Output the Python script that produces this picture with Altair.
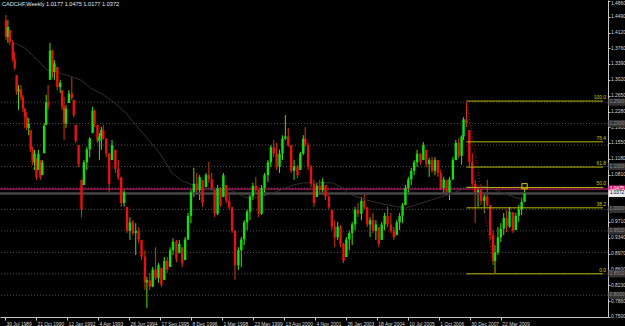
import altair as alt
import pandas as pd

# ---------------- data ----------------
title_text = "CADCHF,Weekly  1.0177 1.0475 1.0177 1.0372"

# bar index in weeks from 30 Jul 1989 (one sample every ~6 weeks)
weeks = [2,6,10,16,20,24,28,33,37,41,45,49,53,57,61,65,69,73,77,81,85,89,93,98,102,108,114,118,122,126,
         132,138,142,146,152,158,163,169,175,181,185,191,195,199,203,209,215,221,228,234,240,246,252,258,264,
         270,276,282,289,293,299,305,311,317,323,329,335,341,347,354,360,366,372,378,384,390,396,402,408,415,
         421,427,433,439,445,451,457,463,469,475,482,488,494,500,506,512,518,524,530,536,543,549,555,561,567,
         573,579,585,591,597,604,610,616,620,626,632,638,644,650,656,662,669,675,681,687,693,699,705,711,717,
         723,729,736,742,748,754,760,766,772,778,784,790,797,803,809,815,821,827,833,839,845,851,858,864,870,
         876,882,888,894,900,906,912,918,925,931,937,943,947,953,959,965,971,977,983,990,996,1002,1008,1012,
         1018,1024,1030,1036,1042,1049,1055,1061,1067,1073]

highs = [1.453,1.441,1.418,1.395,1.367,1.313,1.290,1.290,1.267,1.236,
         1.227,1.213,1.185,1.146,1.139,1.120,1.139,1.115,1.115,1.201,
         1.267,1.290,1.388,1.372,1.348,1.332,1.302,1.278,1.262,1.243,
         1.278,1.309,1.255,1.197,1.150,1.069,1.115,1.146,1.169,1.239,
         1.232,1.197,1.178,1.192,1.197,1.166,1.131,1.162,1.139,1.115,
         1.076,1.045,1.006,0.982,0.975,0.968,0.959,0.929,0.905,0.843,
         0.852,0.866,0.912,0.875,0.864,0.889,0.889,0.912,0.933,0.929,
         0.929,0.912,0.936,0.992,1.045,1.097,1.085,1.080,1.069,1.085,
         1.111,1.085,1.045,1.057,1.052,1.085,1.057,1.038,1.006,0.952,
         0.912,0.936,0.975,0.999,1.034,1.062,1.076,1.045,1.057,1.085,
         1.115,1.150,1.162,1.155,1.139,1.173,1.220,1.190,1.150,1.115,
         1.104,1.134,1.173,1.192,1.155,1.104,1.069,1.062,1.069,1.073,
         1.057,1.034,0.999,0.975,0.971,0.964,0.922,0.936,0.952,0.971,
         1.006,1.015,1.029,1.038,1.006,0.982,0.992,0.975,0.959,0.971,
         0.992,1.006,0.992,0.959,0.975,0.992,1.015,1.057,1.076,1.097,
         1.115,1.139,1.131,1.157,1.139,1.120,1.122,1.122,1.115,1.092,
         1.076,1.069,1.076,1.122,1.162,1.166,1.173,1.215,1.2525,1.185,
         1.131,1.069,1.052,1.057,1.038,1.069,1.010,0.952,0.917,0.959,
         0.968,0.992,0.999,1.006,0.994,0.992,1.010,1.027,1.0475]

lows = [1.395,1.388,1.383,1.344,1.325,1.267,1.232,1.255,1.227,1.190,
        1.185,1.173,1.134,1.104,1.092,1.069,1.092,1.069,1.080,1.131,
        1.197,1.232,1.302,1.306,1.302,1.278,1.271,1.232,1.162,1.190,
        1.248,1.255,1.215,1.155,1.099,0.982,1.057,1.092,1.122,1.178,
        1.192,1.155,1.115,1.139,1.162,1.122,1.041,1.115,1.085,1.069,
        1.006,1.006,0.945,0.929,0.940,0.894,0.922,0.882,0.812,0.770,
        0.812,0.819,0.836,0.829,0.819,0.836,0.852,0.866,0.894,0.877,
        0.898,0.866,0.882,0.929,0.968,1.029,1.034,1.022,1.006,1.052,
        1.062,1.045,0.982,0.987,1.006,1.029,1.015,0.999,0.945,0.836,
        0.859,0.866,0.917,0.952,0.975,1.022,1.038,0.982,0.987,1.034,
        1.064,1.099,1.122,1.092,1.085,1.115,1.162,1.146,1.085,1.069,
        1.073,1.092,1.127,1.146,1.092,1.052,1.006,1.029,1.038,1.034,
        1.022,0.999,0.952,0.912,0.929,0.912,0.875,0.889,0.905,0.917,
        0.952,0.982,0.975,0.999,0.959,0.936,0.945,0.929,0.912,0.929,
        0.952,0.959,0.945,0.929,0.940,0.952,0.968,1.010,1.034,1.057,
        1.080,1.099,1.104,1.115,1.099,1.076,1.085,1.080,1.076,1.045,
        1.038,1.034,1.022,1.069,1.115,1.120,1.104,1.162,1.192,1.099,
        1.052,0.968,1.006,1.010,0.992,1.006,0.929,0.871,0.850,0.894,
        0.924,0.940,0.947,0.957,0.945,0.952,0.971,0.987,1.0177]

closes = [1.402,1.425,1.390,1.350,1.330,1.275,1.280,1.262,1.235,1.215,
          1.190,1.200,1.140,1.110,1.130,1.075,1.130,1.075,1.110,1.195,
          1.250,1.240,1.370,1.320,1.340,1.285,1.295,1.240,1.200,1.235,
          1.270,1.260,1.220,1.160,1.105,1.000,1.110,1.140,1.165,1.230,
          1.200,1.160,1.170,1.185,1.165,1.130,1.060,1.150,1.095,1.075,
          1.015,1.040,0.950,0.970,0.945,0.950,0.930,0.890,0.830,0.835,
          0.820,0.860,0.840,0.870,0.825,0.880,0.860,0.905,0.925,0.885,
          0.920,0.875,0.930,0.985,1.040,1.060,1.045,1.075,1.015,1.080,
          1.070,1.050,0.990,1.050,1.010,1.080,1.020,1.005,0.950,0.870,
          0.905,0.930,0.970,0.995,1.030,1.055,1.045,0.990,1.050,1.080,
          1.110,1.145,1.130,1.100,1.130,1.165,1.170,1.150,1.090,1.100,
          1.080,1.130,1.165,1.150,1.100,1.060,1.015,1.055,1.045,1.065,
          1.030,1.005,0.960,0.935,0.960,0.920,0.880,0.930,0.945,0.965,
          1.000,0.990,1.020,1.005,0.965,0.975,0.950,0.965,0.920,0.965,
          0.985,0.965,0.950,0.935,0.970,0.985,1.010,1.050,1.070,1.090,
          1.110,1.130,1.110,1.150,1.105,1.115,1.090,1.115,1.085,1.050,
          1.070,1.040,1.070,1.115,1.155,1.125,1.170,1.210,1.200,1.110,
          1.060,1.040,1.045,1.020,1.030,1.010,0.940,0.880,0.900,0.935,
          0.955,0.980,0.960,0.995,0.950,0.985,1.000,1.0177,1.0372]
first_open = 1.440

ma_weeks = [16,41,67,87,128,156,177,203,224,250,270,291,319,345,366,400,427,467,494,514,543,
            569,595,616,650,677,697,711,746,792,827,847,880,914,941,961,981,1002,1022,1051,1071]
ma_vals = [1.390,1.376,1.348,1.325,1.313,1.302,1.283,1.267,1.250,1.225,1.197,1.169,1.132,1.085,
           1.066,1.052,1.045,1.045,1.029,1.027,1.034,1.045,1.057,1.062,1.062,1.062,1.050,1.036,
           1.022,1.010,1.003,1.010,1.022,1.034,1.045,1.055,1.055,1.050,1.041,1.029,1.022]

# right-axis price labels that are not hidden behind the price boxes
price_ticks = [1.4860,1.4490,1.4120,1.3760,1.3390,1.3020,1.2650,1.2280,1.1910,1.1550,1.1180,
               1.0810,0.9710,0.9340,0.8970,0.8600,0.8230,0.7860,0.7500]
date_labels = ["30 Jul 1989","21 Oct 1990","12 Jan 1992","4 Apr 1993","26 Jun 1994","17 Sep 1995",
               "8 Dec 1996","1 Mar 1998","23 May 1999","13 Aug 2000","4 Nov 2001","26 Jan 2003",
               "18 Apr 2004","10 Jul 2005","1 Oct 2006","30 Dec 2007","22 Mar 2009"]
weeks_per_label = 64

hline_prices = [1.25,1.20,1.15,1.10,1.05,1.00,0.95,0.90,0.85,0.80]
boxed_prices = [1.25,1.20,1.10,1.00,0.95,0.85,0.80]

fib_start_week = 953
fib_high = 1.2525
fib_low = 0.8500
fib_levels = [100.0, 76.4, 61.8, 50.0, 38.2, 0.0]
fib_trend_weeks = [953, 1012]

pink_price = 1.0475
bid_price = 1.0372
marker_week = 1073
marker_price = 1.054

x_max = 1235
y_min, y_max = 0.7494, 1.4880

assert len(weeks) == len(highs) == len(lows) == len(closes)

# ---------------- tables ----------------
opens = [first_open] + closes[:-1]
rows = []
for w, h, l, o, c in zip(weeks, highs, lows, opens, closes):
    o = min(max(o, l), h)
    c = min(max(c, l), h)
    rows.append({"week": w, "high": h, "low": l, "open": o, "close": c,
                 "dir": "up" if c >= o else "down"})
candles = pd.DataFrame(rows)
ma_df = pd.DataFrame({"week": ma_weeks, "price": ma_vals})
hl_df = pd.DataFrame({"price": hline_prices})
box_df = pd.DataFrame({"price": boxed_prices, "label": [f"{p:.4f}" for p in boxed_prices]})
fib_df = pd.DataFrame({
    "start": [fib_start_week] * len(fib_levels),
    "end": [x_max] * len(fib_levels),
    "price": [fib_low + (fib_high - fib_low) * lv / 100 for lv in fib_levels],
    "label": [f"{lv:.1f}" for lv in fib_levels],
})
trend_df = pd.DataFrame({"week": fib_trend_weeks, "price": [fib_high, fib_low]})
lines_df = pd.DataFrame({"price": [pink_price, bid_price],
                         "label": [f"{pink_price:.4f}", f"{bid_price:.4f}"],
                         "kind": ["pink", "bid"]})
marker_df = pd.DataFrame({"week": [marker_week], "price": [marker_price]})
title_df = pd.DataFrame({"t": [title_text]})

xs = alt.Scale(domain=[0, x_max], nice=False, zero=False)
ys = alt.Scale(domain=[y_min, y_max], nice=False, zero=False)

FONT = "Liberation Sans"
FS = 4.9

label_arr = "[" + ",".join(f"'{d}'" for d in date_labels) + "]"
x_axis = alt.Axis(values=[i * weeks_per_label for i in range(len(date_labels))],
                  labelExpr=f"{label_arr}[round(datum.value/{weeks_per_label})]",
                  title=None, grid=False, labelAlign="left", labelPadding=1, labelOffset=1,
                  labelFontSize=FS, labelColor="#d8d8d8", tickColor="#c8c8c8", tickSize=3,
                  domainColor="#c8c8c8", labelFont=FONT, labelOverlap=False,
                  labelFlush=False, labelBaseline="top")
y_axis = alt.Axis(values=price_ticks, format=".4f", orient="right", title=None, grid=False,
                  labelFontSize=FS, labelColor="#d8d8d8", tickColor="#c8c8c8", tickSize=2,
                  labelPadding=0.5, domainColor="#c8c8c8", labelFont=FONT,
                  labelOverlap=False, labelFlush=False,
                  labelBaseline={"condition": {"test": "datum.value > 1.48", "value": "top"},
                                 "value": "middle"})


def X(field):
    return alt.X(field, type="quantitative", scale=xs, axis=x_axis)


def Y(field):
    return alt.Y(field, type="quantitative", scale=ys, axis=y_axis)


hgrid = alt.Chart(hl_df).mark_rule(color="#505050", strokeDash=[1, 2], strokeWidth=1).encode(
    y=Y("price"))

price_lines = alt.Chart(lines_df).mark_rule().encode(
    y=Y("price"),
    color=alt.Color("kind:N", scale=alt.Scale(domain=["pink", "bid"], range=["#e2207e", "#464646"]),
                    legend=None),
    strokeWidth=alt.StrokeWidth("kind:N", scale=alt.Scale(domain=["pink", "bid"], range=[1, 2.5]),
                                legend=None))

ma = alt.Chart(ma_df).mark_line(color="#303030", strokeWidth=1).encode(x=X("week"), y=Y("price"))

wicks = alt.Chart(candles).mark_rule(strokeWidth=1).encode(
    x=X("week"), y=Y("low"), y2="high:Q",
    color=alt.Color("dir:N", scale=alt.Scale(domain=["up", "down"], range=["#58d800", "#d83800"]),
                    legend=None))
bodies = alt.Chart(candles).mark_bar(size=2.4).encode(
    x=X("week"), y=Y("open"), y2="close:Q",
    color=alt.Color("dir:N", scale=alt.Scale(domain=["up", "down"], range=["#10e010", "#e81010"]),
                    legend=None))

fib_lines = alt.Chart(fib_df).mark_rule(color="#b8b800", strokeWidth=1).encode(
    x=X("start"), x2="end:Q", y=Y("price"))
fib_text = alt.Chart(fib_df).mark_text(align="right", baseline="bottom", dy=-1, fontSize=FS,
                                        color="#c8c800", font=FONT).encode(
    x=alt.value(606), y=Y("price"), text="label:N")
trend = alt.Chart(trend_df).mark_line(color="#d01010", strokeDash=[1, 2], strokeWidth=1).encode(
    x=X("week"), y=Y("price"))

marker = alt.Chart(marker_df).mark_point(shape="square", size=28, filled=False, color="#d4c800",
                                         strokeWidth=1, opacity=1).encode(
    x=X("week"), y=Y("price"))

box_shape = "M-1,-0.42H1V0.42H-1Z"
hl_boxes = alt.Chart(box_df).mark_point(shape=box_shape, size=289, filled=True, fill="#333333",
                                        strokeWidth=0, opacity=1).encode(
    x=alt.value(617), y=Y("price"))
hl_box_text = alt.Chart(box_df).mark_text(fontSize=FS, color="#8a8a8a", align="center",
                                          baseline="middle", font=FONT).encode(
    x=alt.value(617), y=Y("price"), text="label:N")
line_boxes = alt.Chart(lines_df).mark_point(shape=box_shape, size=289, filled=True, strokeWidth=0,
                                            opacity=1).encode(
    x=alt.value(617), y=Y("price"),
    yOffset=alt.YOffset("kind:N", scale=alt.Scale(domain=["pink", "bid"], range=[-1.8, 1.8])),
    fill=alt.Fill("kind:N", scale=alt.Scale(domain=["pink", "bid"], range=["#e2207e", "#e8e8e8"]),
                  legend=None))
line_box_text = alt.Chart(lines_df).mark_text(fontSize=4.6, align="center", baseline="middle",
                                              font=FONT).encode(
    x=alt.value(617), y=Y("price"),
    yOffset=alt.YOffset("kind:N", scale=alt.Scale(domain=["pink", "bid"], range=[-2.2, 2.2])),
    text="label:N",
    color=alt.Color("kind:N", scale=alt.Scale(domain=["pink", "bid"], range=["#ffffff", "#000000"]),
                    legend=None))

title = alt.Chart(title_df).mark_text(align="left", baseline="middle", fontSize=5.6,
                                      color="#e8e8e8", font=FONT).encode(
    x=alt.value(2), y=alt.value(4), text="t:N")

chart = alt.layer(
    wicks, hgrid, price_lines, ma, bodies, fib_lines, trend, fib_text, marker,
    hl_boxes, hl_box_text, line_boxes, line_box_text, title
).resolve_scale(color="independent", fill="independent", strokeWidth="independent",
                yOffset="independent").properties(
    width=608, height=317,
    padding={"left": 0, "top": 0, "right": 17, "bottom": 9},
    autosize=alt.AutoSizeParams(type="none"),
    background="#000000",
).configure_view(stroke=None)

chart.save("out.html", embed_options={"renderer": "svg", "actions": False})
